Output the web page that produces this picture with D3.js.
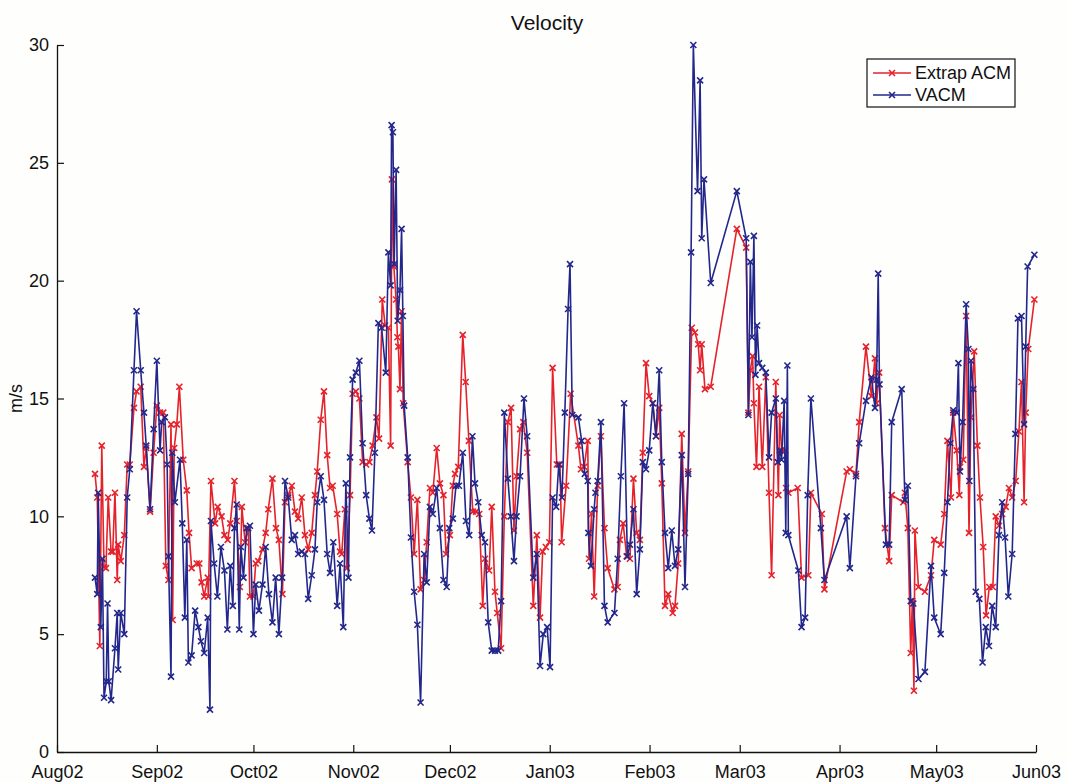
<!DOCTYPE html>
<html>
<head>
<meta charset="utf-8">
<script src="https://cdn.jsdelivr.net/npm/d3@7"></script>
<style>
  html, body { margin: 0; padding: 0; background: #ffffff; }
  svg { display: block; font-family: "Liberation Sans", Arial, Helvetica, sans-serif; }
</style>
</head>
<body>
<svg id="chart" width="1068" height="782"></svg>
<script>
// Daily mean current speed, two instruments. Days are counted from 1 Aug 2002.
const acmDay = [
  11.8,12.5,13.3,13.9,14.6,15.2,15.9,16.8,17.3,18.0,18.7,19.0,19.8,20.9,21.8,22.6,23.9,24.7,26.0,27.0,
  27.7,28.9,30.0,31.0,32.0,33.0,33.8,34.6,35.4,35.9,36.4,37.2,38.0,39.2,40.3,41.0,41.8,43.4,44.2,44.9,
  45.7,46.8,47.0,47.8,49.1,49.9,51.1,52.0,53.0,53.8,55.1,55.8,56.8,57.4,58.4,59.4,59.9,61.0,61.7,62.5,
  63.8,64.8,65.6,66.9,68.0,68.9,70.0,70.8,71.8,72.9,73.9,74.9,76.0,77.0,78.0,79.1,80.1,80.8,81.9,82.9,
  83.9,84.8,85.6,87.0,87.9,88.4,89.4,90.0,91.0,91.8,92.8,93.9,94.9,96.0,97.0,98.0,99.2,100.0,101.0,101.9,
  102.9,103.6,104.0,104.6,105.3,105.7,106.0,106.5,107.0,107.5,108.9,109.9,110.9,111.9,112.9,114.0,114.8,115.8,116.7,117.9,
  118.9,120.0,120.8,122.0,122.9,123.6,124.6,126.0,126.9,127.9,129.1,130.1,131.1,132.2,132.9,134.2,135.0,136.0,136.7,137.9,
  138.9,140.0,141.0,141.9,142.7,143.8,144.8,146.0,147.9,149.0,150.0,150.8,151.8,152.9,153.9,155.2,156.2,156.7,158.1,159.5,
  161.9,162.7,163.7,164.8,165.2,166.0,166.8,167.9,168.9,170.0,171.0,173.1,174.1,174.8,175.8,176.9,177.9,179.0,180.0,181.0,
  181.9,182.9,183.9,185.0,186.0,187.0,187.8,188.8,189.8,191.2,191.9,192.9,194.0,195.0,196.0,197.1,198.1,199.1,199.7,200.2,
  201.2,203.0,211.1,214.0,214.7,215.3,216.0,216.4,217.2,218.0,219.0,220.1,221.1,221.9,223.2,224.0,224.4,225.0,226.1,226.4,
  227.1,230.0,231.2,233.3,234.1,237.5,238.3,245.2,246.2,248.1,249.1,251.2,252.9,254.0,254.5,255.3,257.1,258.4,259.2,262.8,
  263.3,264.2,265.1,265.6,266.1,266.4,267.5,269.5,271.4,272.4,274.4,275.5,276.5,277.6,278.3,279.4,280.2,280.4,281.4,282.3,
  283.2,283.8,284.8,285.8,286.6,287.6,288.5,289.5,290.6,291.5,292.5,293.5,294.6,295.6,296.6,297.7,298.7,299.5,300.3,300.8,
  301.6,303.5
];
const acmSpeed = [
  11.8,10.8,4.5,13.0,7.85,7.8,10.8,8.5,8.5,11.0,7.3,8.8,8.1,9.2,12.2,12.2,14.6,15.3,15.5,12.1,
  12.9,10.2,12.7,14.7,14.4,14.4,7.9,7.3,13.9,5.6,12.9,13.9,15.5,12.4,11.1,9.3,7.8,8.0,8.0,7.2,
  6.6,7.4,6.6,11.5,9.7,10.4,10.0,9.2,9.0,9.7,11.5,9.8,7.0,10.4,8.9,9.5,6.6,6.6,8.0,8.1,
  8.6,9.3,10.3,11.6,9.5,9.0,6.7,10.6,10.9,11.3,10.2,9.9,10.8,9.2,8.6,9.3,10.9,11.9,14.1,15.3,
  12.6,11.2,11.3,10.1,8.5,8.4,10.3,7.8,10.9,15.2,15.3,15.0,12.3,12.2,12.3,13.0,14.2,13.3,19.2,18.1,
  18.0,13.0,24.3,20.6,19.2,17.6,17.2,15.4,18.7,14.8,12.3,10.8,8.4,10.7,6.9,7.3,8.9,11.2,11.0,12.9,
  11.4,10.9,8.4,9.2,11.3,11.8,12.1,17.7,15.7,13.2,10.2,10.2,10.1,6.2,8.2,7.7,10.4,6.8,5.9,4.4,
  10.0,14.0,14.6,9.4,11.7,13.7,14.0,12.7,6.2,9.2,5.7,8.5,8.7,8.9,16.3,12.2,12.2,8.9,11.3,15.2,
  13.0,12.0,12.1,13.2,8.2,10.1,6.6,11.3,13.4,9.5,7.8,6.9,7.0,9.0,9.7,8.3,8.2,11.6,9.3,9.0,
  12.7,16.5,15.1,14.8,13.4,14.6,11.4,6.2,6.7,5.9,6.2,8.0,13.5,9.3,11.9,18.0,17.8,17.3,16.2,17.3,
  15.4,15.5,22.2,21.4,14.4,16.2,16.8,14.8,12.1,15.5,12.1,15.9,11.0,7.5,15.7,10.9,14.3,12.8,12.8,11.2,
  11.0,11.2,7.4,7.5,11.0,10.1,6.9,11.9,12.0,11.8,14.0,17.2,15.1,16.7,14.8,16.1,9.5,8.1,10.9,10.6,
  11.0,9.5,4.2,6.4,2.6,9.4,7.0,6.8,7.5,9.0,8.8,10.1,13.2,10.8,14.4,12.8,10.9,12.1,12.4,18.5,
  9.3,14.2,17.0,13.0,10.8,8.7,5.8,7.0,7.0,10.0,9.6,10.1,10.4,11.2,10.8,11.5,13.6,15.7,10.6,14.4,
  17.1,19.2
];

const vacmDay = [
  11.8,12.5,12.8,13.6,14.1,14.6,15.3,15.7,16.1,16.8,18.0,18.7,19.0,19.8,20.9,21.8,22.6,23.9,24.7,26.0,
  27.0,27.7,28.9,30.0,31.0,32.0,32.5,33.5,34.2,34.6,35.4,35.8,36.6,38.2,38.9,39.7,40.3,40.8,41.8,42.9,
  43.9,44.7,45.7,46.8,47.5,47.8,48.8,49.8,50.9,52.0,52.9,53.8,54.6,55.1,55.8,56.6,57.1,57.9,58.9,59.9,
  61.0,61.7,62.7,63.8,64.8,65.8,66.9,67.9,68.9,69.9,70.8,71.8,72.9,73.9,74.9,76.0,77.0,78.0,79.1,80.1,
  80.8,81.9,82.9,83.9,84.8,85.8,87.0,87.9,88.9,89.7,90.5,91.0,91.8,92.8,93.9,94.9,96.0,97.0,97.8,98.7,
  99.8,100.8,102.1,102.9,103.6,103.9,104.3,104.7,105.3,105.8,106.5,107.0,107.4,107.8,108.9,109.9,110.9,111.9,112.9,114.0,
  114.8,115.8,116.7,117.9,118.9,120.0,121.0,121.8,122.9,123.9,124.8,126.0,127.0,128.0,129.0,129.8,130.8,131.9,132.9,133.9,
  135.0,136.0,137.0,137.9,138.9,140.0,140.9,141.9,142.7,143.8,145.0,146.0,147.9,149.0,150.0,151.0,152.2,153.1,153.9,155.0,
  155.8,156.8,157.7,158.7,159.3,160.0,161.9,162.9,163.9,164.8,165.0,165.8,166.8,167.2,167.9,168.9,170.0,171.0,173.1,174.1,
  175.1,176.1,177.1,177.9,179.0,180.0,181.0,181.9,182.9,183.9,185.0,186.0,187.0,187.8,188.8,189.8,190.9,191.9,192.9,194.0,
  195.0,196.0,196.9,197.6,198.9,199.7,200.2,200.9,203.0,211.1,214.0,214.7,215.3,215.8,216.4,216.9,217.4,218.0,219.0,220.1,
  221.1,221.9,223.2,223.8,224.5,225.0,225.8,226.3,226.8,227.1,230.2,231.2,232.3,233.1,234.1,237.2,238.3,245.2,246.2,248.1,
  249.1,251.2,252.9,254.0,254.5,255.0,255.4,257.4,258.4,259.2,262.3,263.3,264.2,265.1,265.9,267.5,269.5,271.4,272.4,274.4,
  275.5,276.5,277.4,278.3,279.4,279.9,280.4,281.2,282.3,283.0,283.3,283.8,284.5,285.3,286.4,287.4,288.4,289.4,290.4,291.5,
  292.5,293.5,294.4,295.4,296.6,297.6,298.4,299.5,300.3,300.8,301.4,303.5
];
const vacmSpeed = [
  7.4,6.7,11.0,5.3,8.2,2.3,3.0,6.3,3.0,2.2,4.4,5.9,3.5,5.9,5.0,10.8,12.0,16.2,18.7,16.2,
  14.4,13.0,10.3,13.7,16.6,12.8,14.0,14.2,12.2,8.3,3.2,12.7,10.6,12.4,9.7,5.7,9.0,3.8,4.1,6.0,
  5.3,4.7,4.2,5.7,1.8,9.8,8.0,6.6,8.7,7.7,5.2,7.9,6.2,9.5,10.5,5.2,8.7,7.4,9.5,9.6,
  5.0,7.1,6.0,7.1,8.7,6.7,5.5,7.4,5.0,7.4,11.5,10.8,9.0,9.2,8.4,8.5,8.4,6.5,7.5,8.6,
  10.6,11.7,10.7,8.4,7.6,8.9,6.2,8.0,5.3,11.4,7.4,12.5,15.8,16.1,16.6,13.1,10.9,9.9,9.4,12.7,
  18.2,18.0,16.1,21.2,19.8,26.6,26.3,20.7,24.7,18.3,19.6,22.2,18.5,14.7,12.5,9.1,6.8,5.4,2.1,8.4,
  7.2,10.4,10.1,11.2,9.5,7.3,7.0,9.5,9.9,11.3,11.3,12.7,9.8,9.2,13.4,11.4,10.6,9.2,8.9,5.5,
  4.3,4.3,4.3,6.4,14.4,11.6,10.0,8.1,10.0,11.7,15.0,13.4,7.4,8.4,3.65,5.0,5.3,3.6,10.8,10.4,
  12.2,10.8,14.4,18.8,20.7,14.3,14.2,13.2,11.8,11.5,9.3,7.9,10.3,11.0,11.5,14.0,6.2,5.5,5.9,8.2,
  11.7,14.8,8.3,8.8,10.3,6.7,8.6,12.3,12.0,12.8,14.8,13.4,16.2,12.3,9.3,7.8,9.4,7.9,8.6,12.6,
  7.0,11.8,21.2,30.0,23.8,28.5,21.8,24.3,19.9,23.8,21.8,14.3,20.8,17.6,21.9,16.0,18.1,16.5,16.3,16.1,
  12.5,14.4,15.0,12.3,12.8,12.4,14.9,9.3,16.4,9.2,7.7,5.3,5.7,10.9,15.0,9.5,7.3,10.0,7.8,11.7,
  13.1,14.9,15.9,14.6,15.8,20.3,15.6,8.8,8.8,14.0,15.4,10.7,11.3,6.4,6.3,3.1,3.4,7.9,5.7,5.0,
  7.6,10.6,13.1,14.5,14.4,16.5,11.9,14.0,19.0,17.1,11.5,16.6,15.4,6.8,6.5,3.8,5.3,4.5,6.2,5.3,
  9.2,10.6,9.1,6.6,8.4,13.5,18.4,18.5,13.9,17.2,20.6,21.1
];

const seriesNames = ["Extrap ACM", "VACM"];
const seriesColors = ["#e5222b", "#23278c"];
const yTicks = [0, 5, 10, 15, 20, 25, 30];
const monthTicks = ["2002-08-01","2002-09-01","2002-10-01","2002-11-01","2002-12-01","2003-01-01",
                    "2003-02-01","2003-03-01","2003-04-01","2003-05-01","2003-06-01"];

const startMs = Date.UTC(2002, 7, 1);
const toDate = d => new Date(startMs + d * 864e5);

const margin = { left: 57, right: 32, top: 45, bottom: 30 };
const W = 1068, H = 782;
const x = d3.scaleUtc()
  .domain([new Date(Date.UTC(2002, 7, 1)), new Date(Date.UTC(2003, 5, 1))])
  .range([margin.left, W - margin.right]);
const y = d3.scaleLinear().domain([0, 30]).range([H - margin.bottom, margin.top]);

const svg = d3.select("#chart");
svg.append("rect").attr("width", W).attr("height", H).attr("fill", "#fefefd");

// axes: ticks point into the plot
const fmt = d3.utcFormat("%b%y");
const xAxis = d3.axisBottom(x)
  .tickValues(monthTicks.map(s => new Date(s + "T00:00:00Z")))
  .tickFormat(fmt).tickSizeInner(-7).tickSizeOuter(0).tickPadding(13);
const yAxis = d3.axisLeft(y)
  .tickValues(yTicks).tickSizeInner(-7).tickSizeOuter(0).tickPadding(8);

const gx = svg.append("g").attr("transform", `translate(0,${y(0)})`).call(xAxis);
const gy = svg.append("g").attr("transform", `translate(${margin.left},0)`).call(yAxis);
[gx, gy].forEach(g => {
  g.selectAll("path.domain").attr("stroke", "#111").attr("stroke-width", 1.3);
  g.selectAll(".tick line").attr("stroke", "#111").attr("stroke-width", 1.2);
  g.selectAll(".tick text").attr("fill", "#111").style("font-size", "18px")
    .style("font-family", '"Liberation Sans", Arial, sans-serif');
});

// title and axis label
svg.append("text").attr("x", 547).attr("y", 30).attr("text-anchor", "middle")
  .style("font-size", "21px").attr("fill", "#111").text("Velocity");
svg.append("text").attr("transform", `translate(22,${(y(0) + y(30)) / 2}) rotate(-90)`)
  .attr("text-anchor", "middle").style("font-size", "18px").attr("fill", "#111").text("m/s");

const markerPath = "M-3,-3L3,3M-3,3L3,-3";
const line = d3.line().x(d => x(d.date)).y(d => y(d.v));

const series = [
  acmDay.map((d, i) => ({ date: toDate(d), v: acmSpeed[i] })),
  vacmDay.map((d, i) => ({ date: toDate(d), v: vacmSpeed[i] }))
];

series.forEach((pts, k) => {
  const g = svg.append("g");
  g.append("path").datum(pts).attr("d", line)
    .attr("fill", "none").attr("stroke", seriesColors[k]).attr("stroke-width", 1.6)
    .attr("stroke-linejoin", "round");
  g.selectAll("path.mk").data(pts).join("path").attr("class", "mk")
    .attr("transform", d => `translate(${x(d.date)},${y(d.v)})`)
    .attr("d", markerPath).attr("stroke", seriesColors[k]).attr("stroke-width", 1.6);
});

// legend
const lg = svg.append("g").attr("transform", "translate(867,59)");
lg.append("rect").attr("width", 148).attr("height", 48)
  .attr("fill", "#fff").attr("stroke", "#111").attr("stroke-width", 1.2);
seriesNames.forEach((name, i) => {
  const cy = 14 + i * 22;
  lg.append("line").attr("x1", 6).attr("x2", 44).attr("y1", cy).attr("y2", cy)
    .attr("stroke", seriesColors[i]).attr("stroke-width", 1.6);
  lg.append("path").attr("transform", `translate(25,${cy})`).attr("d", markerPath)
    .attr("stroke", seriesColors[i]).attr("stroke-width", 1.6);
  lg.append("text").attr("x", 48).attr("y", cy + 6).style("font-size", "18px")
    .attr("fill", "#111").text(name);
});
</script>
</body>
</html>
